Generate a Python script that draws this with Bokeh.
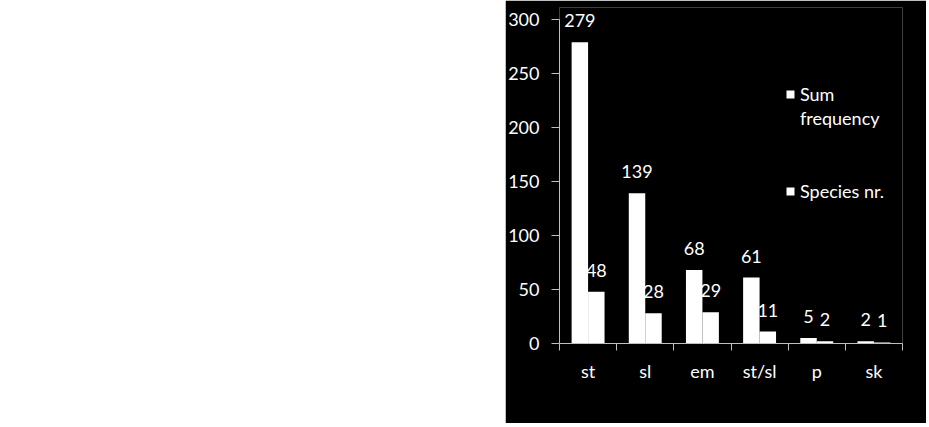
from bokeh.plotting import figure
from bokeh.models import (ColumnDataSource, FixedTicker, Range1d, Legend, LegendItem, Spacer)
from bokeh.layouts import row
from bokeh.embed import file_html
from bokeh.resources import INLINE
from bokeh.core.properties import value

categories = ["st", "sl", "em", "st/sl", "p", "sk"]
sum_frequency = [279, 139, 68, 61, 5, 2]
species_nr = [48, 28, 29, 11, 2, 1]
y_ticks = [0, 50, 100, 150, 200, 250, 300]

FONT = "Lato"
FS = "18px"
n = len(categories)
bw = 0.288
off = 0.144
centers = [i + 0.5 for i in range(n)]

src1 = ColumnDataSource(dict(x=[c - off for c in centers], top=sum_frequency,
                             lab=[str(v) for v in sum_frequency]))
src2 = ColumnDataSource(dict(x=[c + off for c in centers], top=species_nr,
                             lab=[str(v) for v in species_nr]))

p = figure(width=421, height=423, output_backend="svg", toolbar_location=None,
           x_range=Range1d(0, n), y_range=Range1d(0, 311.1),
           min_border_left=53, min_border_right=24, min_border_top=7, min_border_bottom=80,
           background_fill_color="black", border_fill_color="black")
p.outline_line_color = None
p.xgrid.visible = False
p.ygrid.visible = False

r1 = p.vbar(x="x", top="top", width=bw, source=src1, fill_color="white", line_color=None)
r2 = p.vbar(x="x", top="top", width=bw, source=src2, fill_color="white", line_color=None)
# empty renderer used only for the second line of the first legend entry
r_blank = p.vbar(x=[], top=[], width=bw, fill_alpha=0, line_alpha=0)

for s in (src1, src2):
    p.text(x="x", y="top", text="lab", source=s, text_align="center", text_baseline="bottom",
           y_offset=-15, text_color="white", text_font=value(FONT), text_font_size=FS)

# y axis
ya = p.yaxis[0]
ya.ticker = FixedTicker(ticks=y_ticks)
ya.bounds = (0, 300)
ya.axis_line_color = "#bfbfbf"
ya.major_tick_line_color = "#bfbfbf"
ya.major_tick_out = 8
ya.major_tick_in = 0
ya.minor_tick_line_color = None
ya.major_label_standoff = 12
ya.major_label_text_color = "white"
ya.major_label_text_font = FONT
ya.major_label_text_font_size = FS

# x axis
xa = p.xaxis[0]
xa.ticker = FixedTicker(ticks=centers, minor_ticks=list(range(n + 1)))
xa.major_label_overrides = {c: lab for c, lab in zip(centers, categories)}
xa.axis_line_color = "#bfbfbf"
xa.major_tick_line_color = None
xa.major_tick_out = 0
xa.major_tick_in = 0
xa.minor_tick_line_color = "#bfbfbf"
xa.minor_tick_out = 7
xa.minor_tick_in = 0
xa.major_label_standoff = 9
xa.major_label_text_color = "white"
xa.major_label_text_font = FONT
xa.major_label_text_font_size = FS

common = dict(orientation="vertical", background_fill_alpha=0, border_line_color=None,
              label_text_color="white", label_text_font=FONT, label_text_font_size=FS,
              glyph_width=10, glyph_height=10, label_standoff=5, label_height=20,
              padding=0, margin=0, spacing=2)
legend_a = Legend(items=[LegendItem(label="Sum", renderers=[r1]),
                         LegendItem(label="frequency", renderers=[r_blank])],
                  location=(226, 214), **common)
legend_b = Legend(items=[LegendItem(label="Species nr.", renderers=[r2])],
                  location=(226, 141), **common)
p.add_layout(legend_a, "center")
p.add_layout(legend_b, "center")

layout = row(Spacer(width=505, height=423), p)
open("out.html", "w").write(file_html(layout, INLINE))
